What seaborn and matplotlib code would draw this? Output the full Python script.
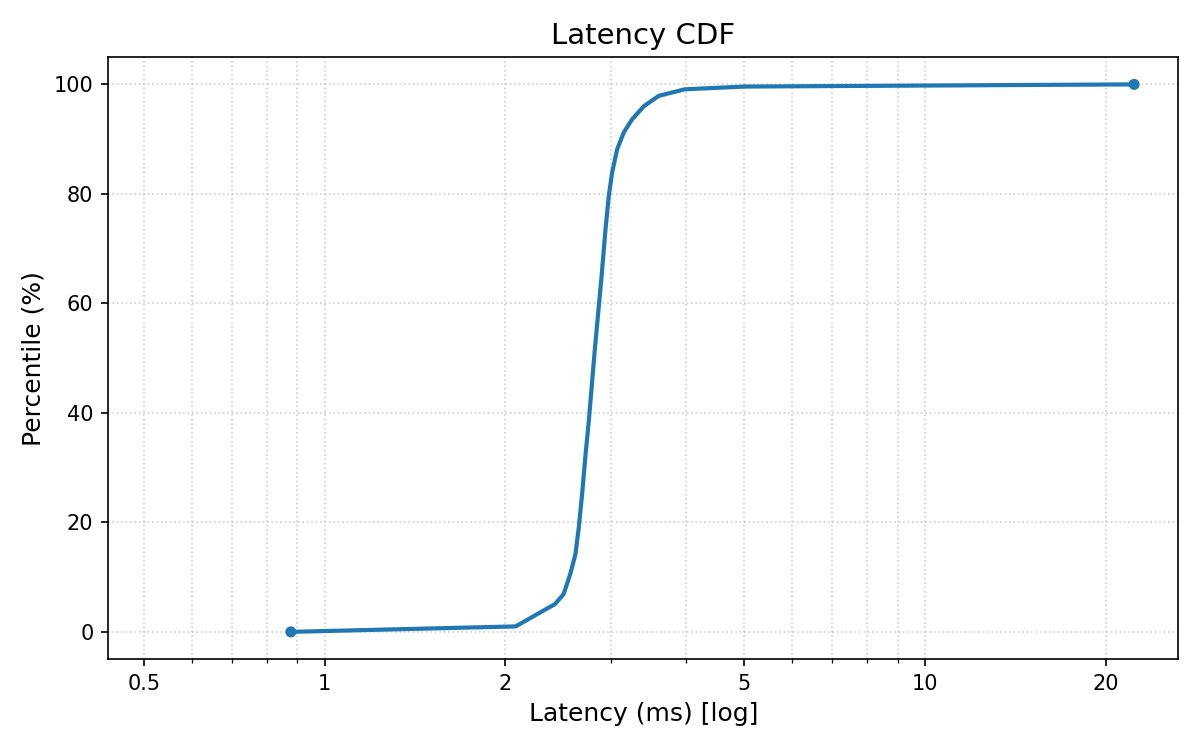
import numpy as np
import pandas as pd
import seaborn as sns
import matplotlib
matplotlib.use('Agg')
import matplotlib.pyplot as plt
import matplotlib.ticker as mt

# percentile points
latency_ms = [0.878, 2.08, 2.42, 2.50, 2.565, 2.616, 2.65, 2.684, 2.72, 2.754,
              2.82, 2.89, 2.935, 2.972, 3.01, 3.069, 3.148, 3.25, 3.40, 3.60,
              3.98, 5.0, 22.3]
percentile = [0, 1, 5.1, 6.9, 10.6, 14.2, 19.1, 25.2, 32.5, 38.6,
              52, 64.6, 73.4, 79.5, 83.8, 88.1, 91.2, 93.6, 96.0, 97.9,
              99.1, 99.6, 100]
xticks = [0.5, 1, 2, 5, 10, 20]

df = pd.DataFrame({'latency': latency_ms, 'pct': percentile})
ends = df.iloc[[0, -1]]

fig, ax = plt.subplots(figsize=(8, 5), dpi=150)
sns.lineplot(data=df, x='latency', y='pct', ax=ax, color='#1f77b4', linewidth=2, sort=False)
sns.scatterplot(data=ends, x='latency', y='pct', ax=ax, color='#1f77b4', s=28,
                edgecolor='none', zorder=3)

ax.set_xscale('log')
ax.set_xlim(latency_ms[0] * 0.496, latency_ms[-1] * 1.185)
ax.set_ylim(-5, 105)
ax.xaxis.set_major_locator(mt.FixedLocator(xticks))
ax.xaxis.set_major_formatter(mt.FixedFormatter([str(t) for t in xticks]))
ax.xaxis.set_minor_locator(mt.LogLocator(base=10, subs=np.arange(2, 10)))
ax.xaxis.set_minor_formatter(mt.NullFormatter())
ax.grid(True, which='both', linestyle=':', color='#b0b0b0', alpha=0.6)

ax.set_title('Latency CDF', fontsize=14)
ax.set_xlabel('Latency (ms) [log]', fontsize=12)
ax.set_ylabel('Percentile (%)', fontsize=12)

fig.subplots_adjust(left=0.09, right=0.982, top=0.924, bottom=0.121)
fig.savefig('out.png', dpi=150)
